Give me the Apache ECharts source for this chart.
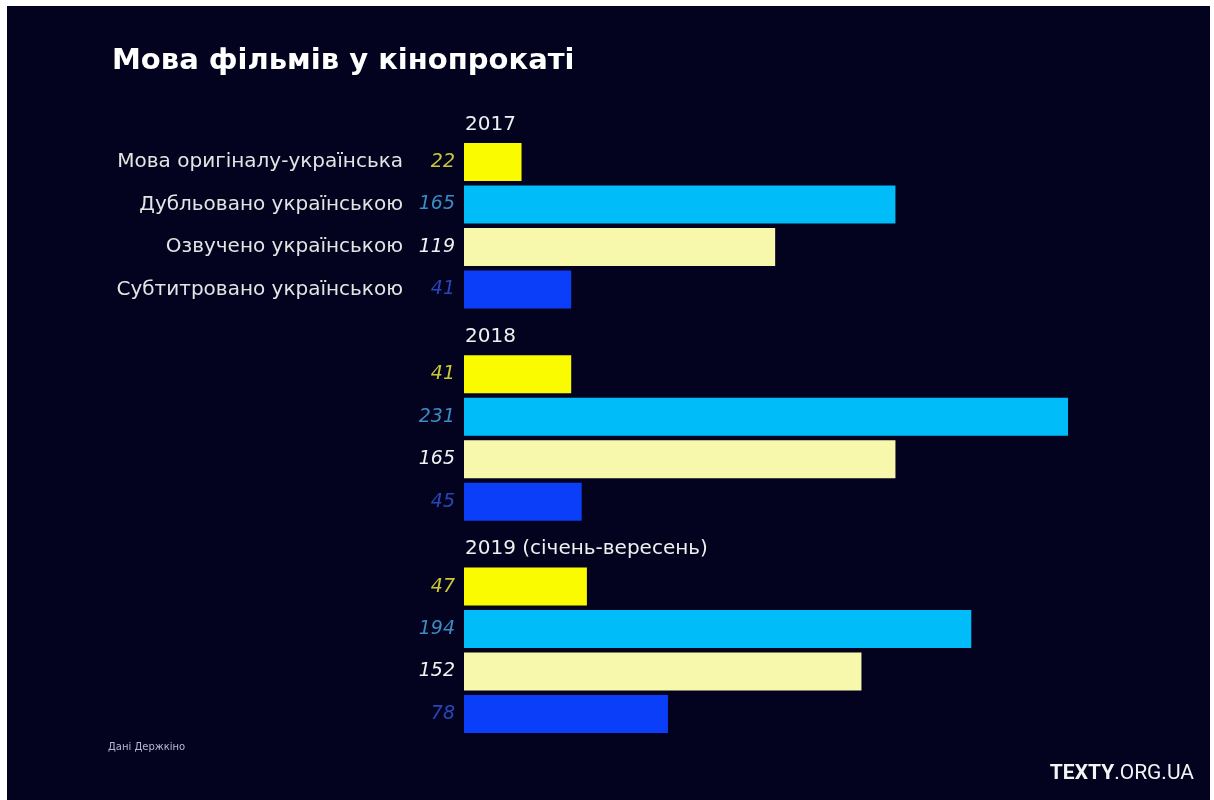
<!DOCTYPE html>
<html>
<head>
<meta charset="utf-8">
<script src="https://cdn.jsdelivr.net/npm/echarts@6/dist/echarts.min.js"></script>
<style>
html,body{margin:0;padding:0;background:#ffffff;}
#main{position:absolute;left:7px;top:6px;width:1203px;height:794px;}
</style>
</head>
<body>
<div id="main"></div>
<script>
const titleText = 'Мова фільмів у кінопрокаті';
const years = ['2017', '2018', '2019 (січень-вересень)'];
const rowNames = ['Мова оригіналу-українська', 'Дубльовано українською', 'Озвучено українською', 'Субтитровано українською'];
const values2017 = [22, 165, 119, 41];
const values2018 = [41, 231, 165, 45];
const values2019 = [47, 194, 152, 78];
const sourceText = 'Дані Держкіно';
const barColors = ['#fbfb00', '#00bcf8', '#f8f8ac', '#0a3ef8'];
const valueColors = ['#c9c936', '#3a8cc4', '#f2f2f2', '#2747b8'];

const allValues = [values2017, values2018, values2019];
const cats = [], data = [];
years.forEach((y, yi) => {
  cats.push('H|' + y);
  data.push({value: '-'});
  rowNames.forEach((n, ri) => {
    cats.push('R' + yi + '|' + n);
    data.push({
      value: allValues[yi][ri],
      itemStyle: {color: barColors[ri]},
      label: {color: valueColors[ri]}
    });
  });
});

const FONT = 'DejaVu Sans';
const chart = echarts.init(document.getElementById('main'));
chart.setOption({
  backgroundColor: '#04031f',
  animation: false,
  title: {
    text: titleText,
    left: 100, top: 36,
    textStyle: {color: '#ffffff', fontSize: 29, fontWeight: 'bold', fontFamily: FONT}
  },
  grid: {left: 457, top: 92.4, height: 636.8, right: 92.3, containLabel: false},
  xAxis: {type: 'value', min: 0, max: 250, show: false},
  yAxis: [{
    type: 'category', data: cats, inverse: true, position: 'left',
    axisLine: {show: false}, axisTick: {show: false}, splitLine: {show: false},
    axisLabel: {
      margin: 61, color: '#e4e4e4', fontSize: 20, fontFamily: FONT,
      formatter: v => v.startsWith('R0|') ? v.split('|')[1] : ''
    }
  }, {
    type: 'category', data: cats, inverse: true, position: 'left', offset: 0,
    axisLine: {show: false}, axisTick: {show: false}, splitLine: {show: false},
    axisLabel: {
      inside: true, margin: 1, color: '#f0f0f0', fontSize: 20, fontFamily: FONT,
      align: 'left', verticalAlign: 'top', lineHeight: 10,
      formatter: v => v.startsWith('H|') ? v.split('|')[1] : ''
    }
  }],
  series: [{
    type: 'bar', yAxisIndex: 0, data: data, barCategoryGap: '10.5%',
    label: {
      show: true, position: 'left', distance: 9, fontSize: 19, fontStyle: 'italic',
      fontFamily: FONT
    }
  }],
  graphic: [{
    type: 'text', left: 101, top: 736,
    style: {text: sourceText, fill: '#b8b8d0', fontSize: 10, fontFamily: FONT}
  }, {
    type: 'text', right: 16, top: 757,
    style: {
      text: '{b|TEXTY}{l|.ORG.UA}',
      rich: {
        b: {fill: '#f4f4f4', fontSize: 21, fontWeight: 'bold', fontFamily: 'Liberation Sans Narrow, Roboto'},
        l: {fill: '#f4f4f4', fontSize: 21, fontFamily: 'Liberation Sans Narrow, Roboto'}
      }
    }
  }]
});
</script>
</body>
</html>
